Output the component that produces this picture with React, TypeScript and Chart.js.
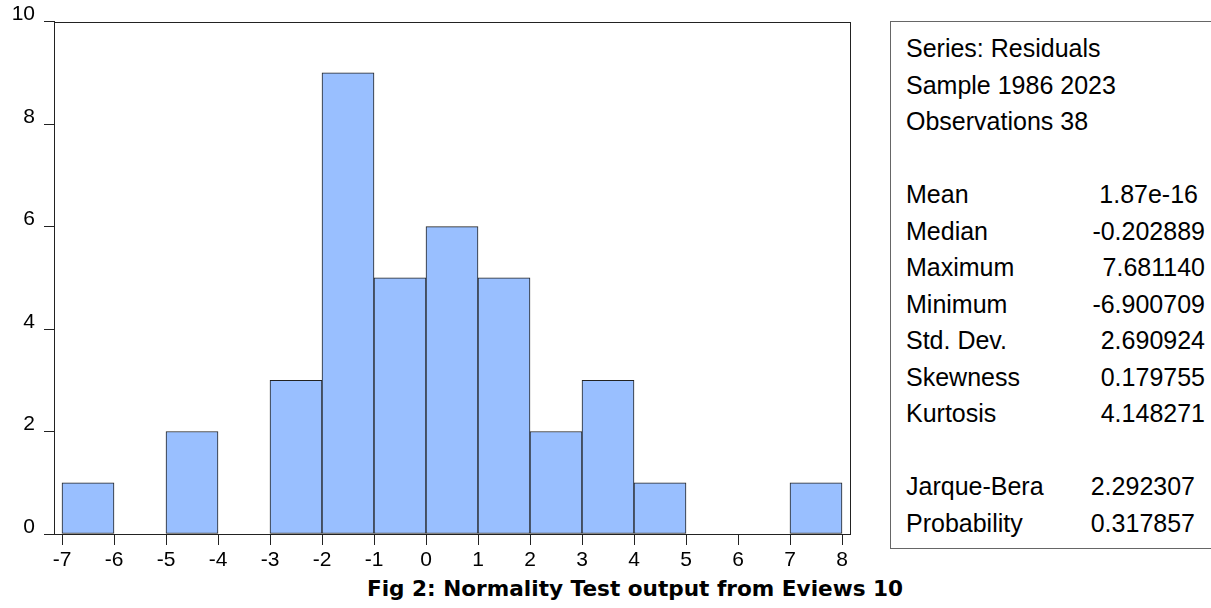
import React, { useEffect, useRef } from "react";
import { Chart, registerables } from "chart.js";

Chart.register(...registerables);

// Histogram bins (centres of unit-wide bins) and counts
const binCenters = [-6.5, -5.5, -4.5, -3.5, -2.5, -1.5, -0.5, 0.5, 1.5, 2.5, 3.5, 4.5, 5.5, 6.5, 7.5];
const binCounts = [1, 0, 2, 0, 3, 9, 5, 6, 5, 2, 3, 1, 0, 0, 1];
const xTickValues = [-7, -6, -5, -4, -3, -2, -1, 0, 1, 2, 3, 4, 5, 6, 7, 8];
const xTickLabels = ["-7", "-6", "-5", "-4", "-3", "-2", "-1", "0", "1", "2", "3", "4", "5", "6", "7", "8"];
const yTickValues = [0, 2, 4, 6, 8, 10];

const headerLines = ["Series: Residuals", "Sample 1986 2023", "Observations 38"];
const statLabels = ["Mean", "Median", "Maximum", "Minimum", "Std. Dev.", "Skewness", "Kurtosis"];
const statValues = ["1.87e-16", "-0.202889", "7.681140", "-6.900709", "2.690924", "0.179755", "4.148271"];
const testLabels = ["Jarque-Bera", "Probability"];
const testValues = ["2.292307", "0.317857"];
const caption = "Fig 2: Normality Test output from Eviews 10";

const BAR_FILL = "#99BFFF";
const LINE = "#222222";
const FONT = "'Liberation Sans', Arial, sans-serif";

const framePlugin = {
  id: "frame",
  afterDatasetsDraw(chart: any) {
    const { ctx, chartArea } = chart;
    ctx.save();
    ctx.strokeStyle = LINE;
    ctx.lineWidth = 1;
    ctx.strokeRect(
      Math.round(chartArea.left) + 0.5,
      Math.round(chartArea.top) + 0.5,
      Math.round(chartArea.right - chartArea.left),
      Math.round(chartArea.bottom - chartArea.top)
    );
    ctx.restore();
  },
};

function Histogram() {
  const ref = useRef<HTMLCanvasElement | null>(null);
  useEffect(() => {
    if (!ref.current) return;
    const chart = new Chart(ref.current, {
      type: "bar",
      data: {
        datasets: [
          {
            data: binCenters.map((x, i) => ({ x, y: binCounts[i] })),
            backgroundColor: BAR_FILL,
            borderColor: LINE,
            borderWidth: 1,
            borderSkipped: false,
            barPercentage: 1,
            categoryPercentage: 1,
          } as any,
        ],
      },
      options: {
        animation: false,
        responsive: false,
        events: [],
        layout: { padding: { top: 21, right: 20, left: 0, bottom: 0 } },
        plugins: {
          legend: { display: false },
          tooltip: { enabled: false },
          title: { display: false },
        },
        scales: {
          x: {
            type: "linear",
            offset: false,
            min: -7 - 8 / 52,
            max: 8 + 8 / 52,
            afterBuildTicks: (s: any) => {
              s.ticks = xTickValues.map((v) => ({ value: v }));
            },
            afterFit: (s: any) => {
              s.height = 41;
            },
            grid: {
              offset: false,
              drawOnChartArea: false,
              drawTicks: true,
              tickLength: 11,
              color: LINE,
            },
            border: { display: true, color: LINE, width: 1 },
            ticks: {
              autoSkip: false,
              maxRotation: 0,
              padding: 3,
              color: "#000",
              font: { family: FONT, size: 21 },
              callback: (v: any) => {
                const i = xTickValues.indexOf(Number(v));
                return i >= 0 ? xTickLabels[i] : "";
              },
            },
          } as any,
          y: {
            type: "linear",
            min: 0,
            max: 10,
            afterBuildTicks: (s: any) => {
              s.ticks = yTickValues.map((v) => ({ value: v }));
            },
            afterFit: (s: any) => {
              s.width = 54;
            },
            grid: {
              drawOnChartArea: false,
              drawTicks: true,
              tickLength: 10,
              color: LINE,
            },
            border: { display: true, color: LINE, width: 1 },
            ticks: {
              padding: 9,
              labelOffset: -7,
              color: "#000",
              font: { family: FONT, size: 21 },
              callback: (v: any) => String(v),
            },
          } as any,
        },
      },
      plugins: [framePlugin],
    });
    return () => chart.destroy();
  }, []);
  return (
    <canvas
      ref={ref}
      width={870}
      height={575}
      style={{ position: "absolute", left: 0, top: 0, width: 870, height: 575 }}
    />
  );
}

const ROW_H = 36.5;

function StatsBox() {
  const rows: { label: string; value: string; right: number }[] = [];
  headerLines.forEach((l) => rows.push({ label: l, value: "", right: 0 }));
  rows.push({ label: "", value: "", right: 0 });
  statLabels.forEach((l, i) => rows.push({ label: l, value: statValues[i], right: i === 0 ? 1198 : 1205 }));
  rows.push({ label: "", value: "", right: 0 });
  testLabels.forEach((l, i) => rows.push({ label: l, value: testValues[i], right: 1195 }));
  const innerLeft = 891;
  return (
    <div
      style={{
        position: "absolute",
        left: 890,
        top: 21,
        width: 340,
        height: 526,
        border: "1px solid #666",
        borderRight: "none",
        fontFamily: FONT,
        fontSize: 25,
        color: "#000",
        boxSizing: "content-box",
      }}
    >
      <div style={{ position: "absolute", left: 0, top: 8 }}>
        {rows.map((r, i) => (
          <div
            key={i}
            style={{ position: "relative", height: ROW_H, lineHeight: ROW_H + "px", whiteSpace: "nowrap" }}
          >
            <span style={{ position: "absolute", left: 15, top: 0 }}>{r.label}</span>
            {r.value && (
              <span
                style={{ position: "absolute", left: 0, top: 0, width: r.right - innerLeft, textAlign: "right" }}
              >
                {r.value}
              </span>
            )}
          </div>
        ))}
      </div>
    </div>
  );
}

export default function App() {
  return (
    <div
      style={{
        position: "fixed",
        left: 0,
        top: 0,
        width: 1211,
        height: 608,
        background: "#fff",
        overflow: "hidden",
      }}
    >
      <Histogram />
      <StatsBox />
      <div
        style={{
          position: "absolute",
          left: 235,
          top: 578,
          width: 800,
          textAlign: "center",
          fontFamily: "'DejaVu Sans', sans-serif",
          fontWeight: 700,
          fontSize: 21.6,
          lineHeight: "22px",
          color: "#000",
          whiteSpace: "nowrap",
        }}
      >
        {caption}
      </div>
    </div>
  );
}
